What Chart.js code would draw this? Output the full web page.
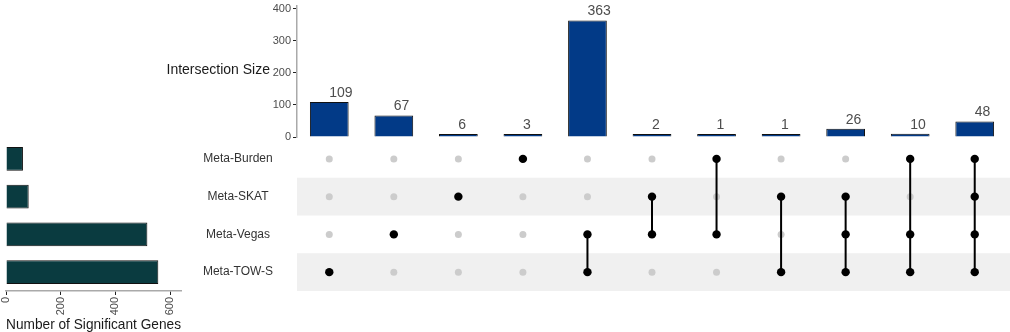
<!DOCTYPE html>
<html>
<head>
<meta charset="utf-8">
<script src="https://cdn.jsdelivr.net/npm/chart.js@4.4.1/dist/chart.umd.min.js"></script>
<style>
  body { margin: 0; background: #fff; }
  #wrap { position: relative; width: 1010px; height: 332px; overflow: hidden; }
  .box { position: absolute; }
</style>
</head>
<body>
<div id="wrap">
  <div class="box" style="left:150px;top:0;width:860px;height:145px"><canvas id="top"></canvas></div>
  <div class="box" style="left:180px;top:140px;width:830px;height:152px"><canvas id="matrix"></canvas></div>
  <div class="box" style="left:0;top:140px;width:190px;height:192px"><canvas id="sets"></canvas></div>
</div>
<script>
// data
const setNames = ['Meta-Burden', 'Meta-SKAT', 'Meta-Vegas', 'Meta-TOW-S'];
const setSizes = [62, 83, 517, 557];
const intersectionSizes = [109, 67, 6, 3, 363, 2, 1, 1, 26, 10, 48];
const intersectionMembers = [
  ['Meta-TOW-S'],
  ['Meta-Vegas'],
  ['Meta-SKAT'],
  ['Meta-Burden'],
  ['Meta-Vegas', 'Meta-TOW-S'],
  ['Meta-SKAT', 'Meta-Vegas'],
  ['Meta-Burden', 'Meta-Vegas'],
  ['Meta-SKAT', 'Meta-TOW-S'],
  ['Meta-SKAT', 'Meta-Vegas', 'Meta-TOW-S'],
  ['Meta-Burden', 'Meta-Vegas', 'Meta-TOW-S'],
  ['Meta-Burden', 'Meta-SKAT', 'Meta-Vegas', 'Meta-TOW-S']
];
const intersectionTicks = [0, 100, 200, 300, 400];
const setTicks = [0, 200, 400, 600];

const FONT = "'Liberation Sans', Arial, sans-serif";
Chart.defaults.font.family = FONT;
Chart.defaults.animation = false;
Chart.defaults.maintainAspectRatio = false;
Chart.defaults.plugins.legend.display = false;
Chart.defaults.plugins.tooltip.enabled = false;

// ---- top: intersection sizes ----
const barLabels = {
  id: 'barLabels',
  afterDatasetsDraw(chart) {
    const ctx = chart.ctx;
    ctx.save();
    ctx.font = '14px ' + FONT;
    ctx.fillStyle = '#4d4d4d';
    ctx.textAlign = 'left';
    ctx.textBaseline = 'bottom';
    chart.getDatasetMeta(0).data.forEach((bar, i) => {
      ctx.fillText(String(intersectionSizes[i]), bar.x, bar.y - 2);
    });
    // horizontal axis title
    ctx.font = '14px ' + FONT;
    ctx.fillStyle = '#1a1a1a';
    ctx.textAlign = 'right';
    ctx.textBaseline = 'middle';
    ctx.fillText('Intersection Size', 120, 70);
    ctx.restore();
  }
};

new Chart(document.getElementById('top'), {
  type: 'bar',
  data: {
    labels: intersectionSizes.map((v, i) => 'I' + i),
    datasets: [{
      data: intersectionSizes,
      backgroundColor: '#023a87',
      borderColor: '#111',
      borderWidth: 1,
      minBarLength: 3,
      barPercentage: 0.6,
      categoryPercentage: 1
    }]
  },
  options: {
    layout: { autoPadding: false, padding: { top: 5, bottom: 8, right: 3 } },
    scales: {
      x: { display: false },
      y: {
        min: 0, max: 410,
        afterBuildTicks: s => { s.ticks = intersectionTicks.map(v => ({ value: v })); },
        afterFit: s => { s.width = 147; },
        grid: { drawOnChartArea: false, color: '#222', tickLength: 4 },
        border: { color: '#aaa', width: 1.5 },
        ticks: { color: '#4d4d4d', font: { size: 11, lineHeight: 0.6 }, padding: 2 }
      }
    }
  },
  plugins: [barLabels]
});

// ---- matrix ----
const grayPts = [], blackPts = [], lines = [];
intersectionMembers.forEach((members, col) => {
  const rows = members.map(m => setNames.indexOf(m));
  setNames.forEach((n, r) => {
    (rows.includes(r) ? blackPts : grayPts).push({ x: col, y: r });
  });
  if (rows.length > 1) {
    lines.push({
      data: [{ x: col, y: Math.min(...rows) }, { x: col, y: Math.max(...rows) }],
      showLine: true, borderColor: '#000', borderWidth: 2, pointRadius: 0
    });
  }
});

const bands = {
  id: 'bands',
  beforeDatasetsDraw(chart) {
    const { ctx, chartArea, scales } = chart;
    ctx.save();
    ctx.fillStyle = '#f0f0f0';
    [1, 3].forEach(r => {
      const y0 = scales.y.getPixelForValue(r - 0.5);
      const y1 = scales.y.getPixelForValue(r + 0.5);
      ctx.fillRect(chartArea.left, y0, chart.width - chartArea.left, y1 - y0);
    });
    // row names, centred left of the matrix
    ctx.font = '12px ' + FONT;
    ctx.fillStyle = '#333';
    ctx.textAlign = 'center';
    ctx.textBaseline = 'middle';
    setNames.forEach((n, r) => {
      ctx.fillText(n, chartArea.left - 59, scales.y.getPixelForValue(r));
    });
    ctx.restore();
  }
};

new Chart(document.getElementById('matrix'), {
  type: 'scatter',
  data: {
    datasets: [
      { data: blackPts, backgroundColor: '#000', pointRadius: 4.2, borderWidth: 0 },
      ...lines,
      { data: grayPts, backgroundColor: '#cccccc', pointRadius: 3.5, borderWidth: 0 }
    ]
  },
  options: {
    layout: { autoPadding: false, padding: { left: 117, right: 3, bottom: 1 } },
    scales: {
      x: { type: 'linear', min: -0.5, max: intersectionSizes.length - 0.5, display: false },
      y: { type: 'linear', min: -0.5, max: setNames.length - 0.5, reverse: true, display: false }
    }
  },
  plugins: [bands]
});

// ---- set sizes ----
new Chart(document.getElementById('sets'), {
  type: 'bar',
  data: {
    labels: setNames,
    datasets: [{
      data: setSizes,
      backgroundColor: '#0a3b40',
      borderColor: '#111',
      borderWidth: 1,
      barPercentage: 0.63,
      categoryPercentage: 1
    }]
  },
  options: {
    indexAxis: 'y',
    layout: { autoPadding: false, padding: { left: 6, right: 9 } },
    scales: {
      y: { display: false },
      x: {
        min: 0, max: 640,
        afterBuildTicks: s => { s.ticks = setTicks.map(v => ({ value: v })); },
        afterFit: s => { s.height = 41; },
        grid: { drawOnChartArea: false, color: '#222', tickLength: 4 },
        border: { color: '#aaa', width: 1.5 },
        ticks: { color: '#4d4d4d', font: { size: 11 }, minRotation: 90, maxRotation: 90, padding: 2 },
        title: { display: true, text: 'Number of Significant Genes', color: '#1a1a1a', font: { size: 15 }, padding: { top: 0, bottom: -2 } }
      }
    }
  }
});
</script>
</body>
</html>
